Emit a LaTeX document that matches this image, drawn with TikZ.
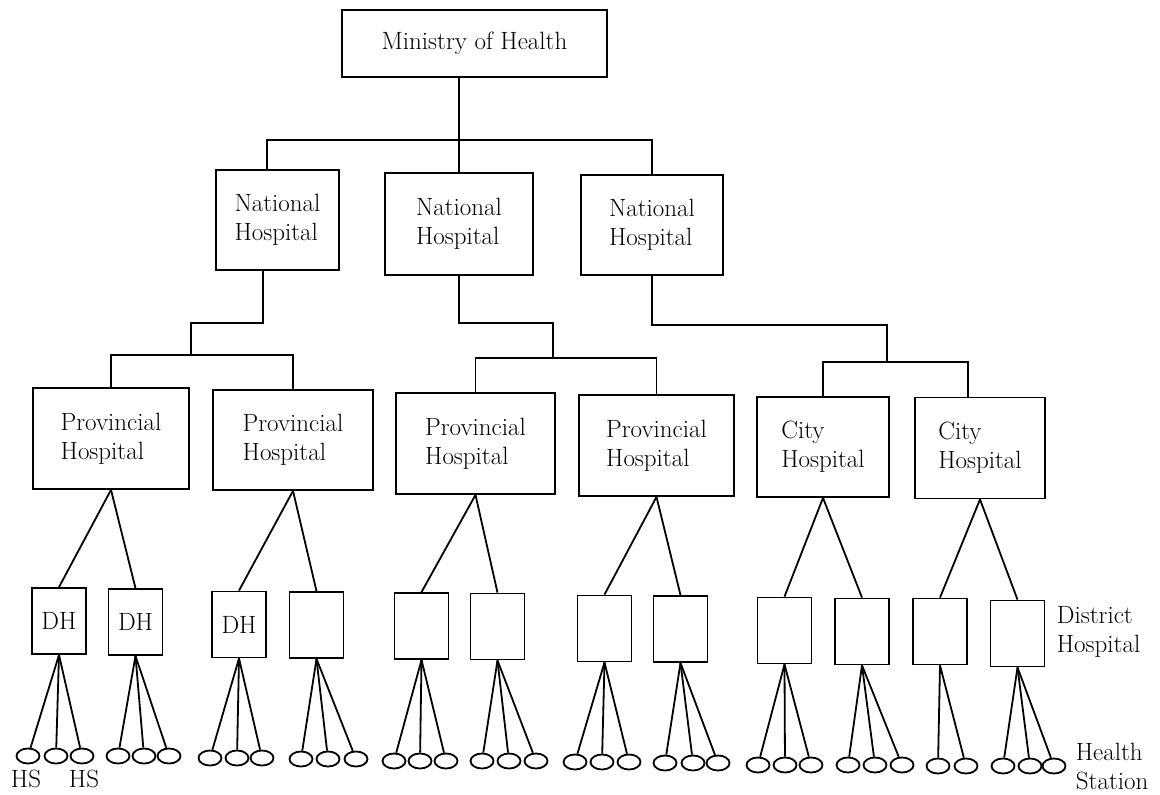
\documentclass[tikz,border=0pt]{standalone}
\usetikzlibrary{shapes.geometric}
\begin{document}
\begin{tikzpicture}[x=1pt,y=-1pt,
  line width=1.8pt,
  every node/.style={font=\fontsize{25}{29}\selectfont},
  hospital/.style={draw, rectangle, inner sep=0pt, align=left, minimum height=100pt},
  dh/.style={draw, rectangle, inner sep=0pt, minimum width=54pt, minimum height=66pt},
  hs/.style={draw, ellipse, inner sep=0pt, minimum width=23pt, minimum height=15pt},
  sidetext/.style={inner sep=0pt, align=left, anchor=west}
]
\useasboundingbox (0,0) rectangle (1160,795);

% top of the hierarchy
\node[hospital, minimum width=265pt, minimum height=67pt] (moh) at (474.5,43.5) {Ministry of Health};

% national hospitals
\node[hospital, minimum width=123pt] (n1) at (277.5,220) {National\\Hospital};
\node[hospital, minimum width=148pt, minimum height=102pt] (n2) at (459,224) {National\\Hospital};
\node[hospital, minimum width=142pt] (n3) at (652,225) {National\\Hospital};

% provincial and city hospitals
\node[hospital, minimum width=156pt, minimum height=101pt] (p1) at (111,438.5) {Provincial\\Hospital};
\node[hospital, minimum width=160pt] (p2) at (293,440) {Provincial\\Hospital};
\node[hospital, minimum width=159pt, minimum height=101pt] (p3) at (475.5,443.5) {Provincial\\Hospital};
\node[hospital, minimum width=155pt, minimum height=101pt] (p4) at (656.5,445.5) {Provincial\\Hospital};
\node[hospital, minimum width=132pt] (ch1) at (823,447) {City\\Hospital};
\node[hospital, minimum width=130pt, minimum height=101pt] (ch2) at (980,448) {City\\Hospital};

% bend points of the elbow connectors
\coordinate (tl) at (267,140);
\coordinate (tr) at (652,140);
\coordinate (a1) at (263,323);
\coordinate (a2) at (191,355);
\coordinate (b1) at (553,323);
\coordinate (b2) at (553,358);
\coordinate (k1) at (887,325);
\coordinate (k2) at (887,362);
\coordinate (kr) at (968,362);

% ministry to national hospitals
\draw (moh.south -| n2.north) -- (n2.north);
\draw (n1.north -| tl) -- (tl) -- (tr) -- (n3.north);

% national to provincial / city hospitals
\draw (n1.south -| a1) -- (a1) -| (a2);
\draw (p1.north) |- (a2) -| (p2.north);
\draw (n2.south) |- (b1) -- (b2);
\draw (p3.north) |- (b2) -| (p4.north);
\draw (n3.south) |- (k1) -- (k2);
\draw (ch1.north) |- (kr) -- (ch2.north -| kr);

% district hospitals
\foreach \d/\x/\y/\t in {d1/59/621/DH, d2/135.5/622/DH, d3/239/624.5/DH, d4/316.5/625/,
    d5/421.5/626/, d6/497.5/626.5/, d7/604.5/628.5/, d8/680.5/629/,
    d9/784.5/630.5/, d10/862/631.5/, d11/940/631.5/, d12/1017.5/633.5/}
  \node[dh] (\d) at (\x,\y) {\t};

\foreach \u/\a/\b in {p1/d1/d2, p2/d3/d4, p3/d5/d6, p4/d7/d8, ch1/d9/d10, ch2/d11/d12} {
  \draw (\u.south) -- (\a.north);
  \draw (\u.south) -- (\b.north);
}

% health stations
\foreach \d/\y/\xs in {d1/756/{28,56,82}, d2/756/{118,144,169}, d3/758/{210,237,262},
    d4/759/{301,328,356}, d5/761/{394,420,446}, d6/761/{482,509,536},
    d7/762/{575,602,629}, d8/763/{665,693,718}, d9/765/{758,785,811},
    d10/765/{848,875,902}, d11/766/{938,966}, d12/766/{1003,1030,1054}} {
  \foreach \x [count=\i] in \xs {
    \node[hs] (\d s\i) at (\x,\y) {};
    \draw (\d.south) -- (\d s\i);
  }
}

% level captions
\node (hsa) at (26,779) {HS};
\node (hsb) at (84,779) {HS};
\node[sidetext] (dhcap) at (1056,632) {District\\Hospital};
\node[sidetext] (hscap) at (1075,767) {Health\\Station};
\end{tikzpicture}
\end{document}
